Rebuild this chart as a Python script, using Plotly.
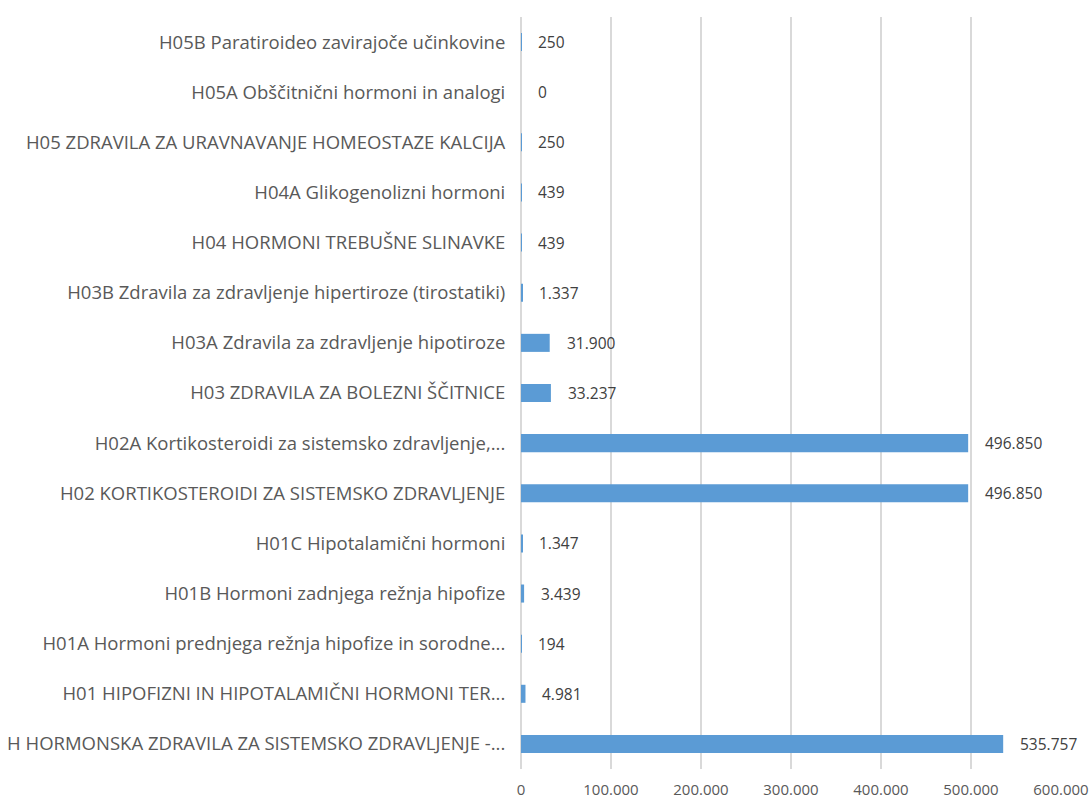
import plotly.graph_objects as go

# ATC group H: values per group, listed bottom to top
categories = [
    "H HORMONSKA ZDRAVILA ZA SISTEMSKO ZDRAVLJENJE -...",
    "H01 HIPOFIZNI IN HIPOTALAMIČNI HORMONI TER...",
    "H01A Hormoni prednjega režnja hipofize in sorodne...",
    "H01B Hormoni zadnjega režnja hipofize",
    "H01C Hipotalamični hormoni",
    "H02 KORTIKOSTEROIDI ZA SISTEMSKO ZDRAVLJENJE",
    "H02A Kortikosteroidi za sistemsko zdravljenje,...",
    "H03 ZDRAVILA ZA BOLEZNI ŠČITNICE",
    "H03A Zdravila za zdravljenje hipotiroze",
    "H03B Zdravila za zdravljenje hipertiroze (tirostatiki)",
    "H04 HORMONI TREBUŠNE SLINAVKE",
    "H04A Glikogenolizni hormoni",
    "H05 ZDRAVILA ZA URAVNAVANJE HOMEOSTAZE KALCIJA",
    "H05A Obščitnični hormoni in analogi",
    "H05B Paratiroideo zavirajoče učinkovine",
]
values = [535757, 4981, 194, 3439, 1347, 496850, 496850, 33237, 31900,
          1337, 439, 439, 250, 0, 250]
x_ticks = [0, 100000, 200000, 300000, 400000, 500000, 600000]

FONT = "Open Sans"
BAR_COLOR = "#5B9BD5"


def fmt(v):
    return f"{v:,}".replace(",", ".")


fig = go.Figure(
    go.Bar(
        x=values,
        y=categories,
        orientation="h",
        marker=dict(color=BAR_COLOR, line=dict(width=0)),
        hoverinfo="skip",
    )
)

# value labels just right of each bar end
for cat, v in zip(categories, values):
    fig.add_annotation(
        x=v, y=cat, text=fmt(v), showarrow=False,
        xanchor="left", yanchor="middle", xshift=15,
        font=dict(family=FONT, size=15.5, color="#404040"),
    )

fig.update_layout(
    width=1091, height=801,
    margin=dict(l=521, r=30, t=17, b=32),
    paper_bgcolor="white", plot_bgcolor="white",
    separators=",.",
    bargap=0.64,
    showlegend=False,
    font=dict(family=FONT),
)
fig.update_xaxes(
    range=[0, 600000],
    tickvals=x_ticks,
    ticktext=[fmt(t) for t in x_ticks],
    showgrid=True, gridcolor="#D9D9D9", gridwidth=1.5,
    zeroline=True, zerolinecolor="#D9D9D9", zerolinewidth=1.5,
    showline=False, automargin=False,
    ticks="outside", ticklen=7, tickcolor="rgba(0,0,0,0)",
    tickfont=dict(family=FONT, size=15, color="#595959"),
)
fig.update_yaxes(
    categoryorder="array", categoryarray=categories,
    showgrid=False, showline=False, automargin=False,
    ticks="outside", ticklen=11, tickcolor="rgba(0,0,0,0)",
    tickfont=dict(family=FONT, size=18.5, color="#595959"),
)

fig.write_html("out.html")
